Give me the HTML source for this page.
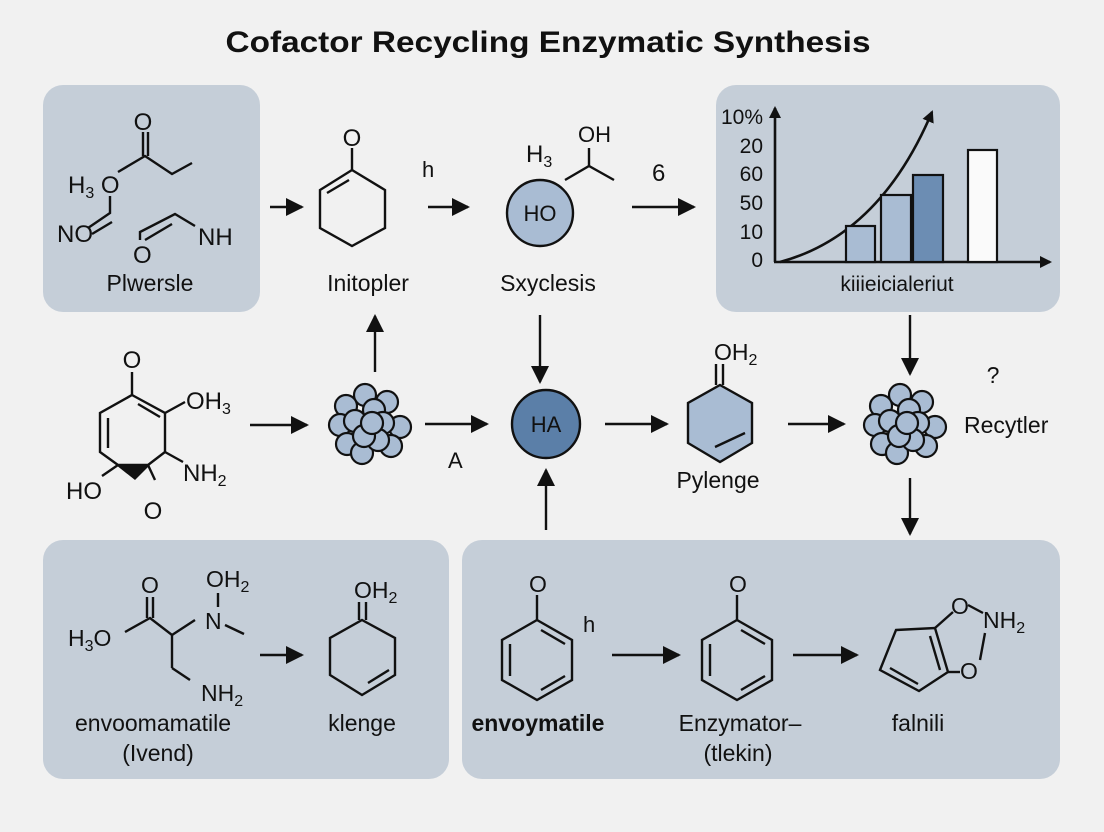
<!DOCTYPE html>
<html><head><meta charset="utf-8"><style>
html,body{margin:0;padding:0;background:#f1f1f1;}
svg{display:block;}
text{font-family:"Liberation Sans",sans-serif;fill:#111;}
</style></head><body>
<svg width="1104" height="832" viewBox="0 0 1104 832" xmlns="http://www.w3.org/2000/svg">
<defs>
<marker id="ah" markerWidth="12" markerHeight="12" refX="10" refY="6" orient="auto" markerUnits="userSpaceOnUse" viewBox="0 0 12 12">
<path d="M0,0 L12,6 L0,12 z" fill="#111"/></marker>
<marker id="ah2" markerWidth="18" markerHeight="18" refX="16" refY="9" orient="auto" markerUnits="userSpaceOnUse" viewBox="0 0 18 18">
<path d="M0,0 L18,9 L0,18 z" fill="#111"/></marker>
<g id="cl" stroke="#111" stroke-width="2.2" fill="#a9bcd3">
<circle cx="-5" cy="-30" r="11"/><circle cx="17" cy="-23" r="11"/><circle cx="-24" cy="-19" r="11"/>
<circle cx="4" cy="-15" r="11"/><circle cx="-30" cy="0" r="11"/><circle cx="30" cy="2" r="11"/>
<circle cx="-15" cy="-4" r="11"/><circle cx="13" cy="-2" r="11"/><circle cx="-23" cy="19" r="11"/>
<circle cx="21" cy="21" r="11"/><circle cx="-8" cy="28" r="11"/><circle cx="8" cy="15" r="11"/>
<circle cx="-6" cy="11" r="11"/><circle cx="2" cy="-2" r="11"/>
</g>
</defs>
<rect width="1104" height="832" fill="#f1f1f1"/>
<text x="548" y="52" font-size="30" font-weight="bold" text-anchor="middle" textLength="645" lengthAdjust="spacingAndGlyphs">Cofactor Recycling Enzymatic Synthesis</text>

<rect x="43" y="85" width="217" height="227" rx="20" fill="#c5ced8"/>
<rect x="716" y="85" width="344" height="227" rx="20" fill="#c5ced8"/>
<rect x="43" y="540" width="406" height="239" rx="20" fill="#c5ced8"/>
<rect x="462" y="540" width="598" height="239" rx="20" fill="#c5ced8"/>

<g stroke="#111" stroke-width="2.4" fill="none">
<line x1="148" y1="132" x2="148" y2="156"/><line x1="143" y1="132" x2="143" y2="156"/>
<path d="M118,172 L145,156 L172,174 L192,163"/>
<path d="M110,196 L110,213 L88,228"/><line x1="92" y1="234" x2="112" y2="222"/>
<path d="M140,240 L140,232 L175,214 L195,226"/><line x1="145" y1="240" x2="172" y2="224"/>
<line x1="270" y1="207" x2="302" y2="207" marker-end="url(#ah2)"/>
<line x1="428" y1="207" x2="468" y2="207" marker-end="url(#ah2)"/>
<line x1="632" y1="207" x2="694" y2="207" marker-end="url(#ah2)"/>
<line x1="352" y1="148" x2="352" y2="170"/>
<path d="M352,170 L385,190 L385,228 L352,246 L320,228 L320,190 Z"/>
<line x1="327" y1="193" x2="349" y2="180"/>
<path d="M565,180 L589,166 L614,180"/><line x1="589" y1="166" x2="589" y2="148"/>
</g>
<circle cx="540" cy="213" r="33" fill="#a9bcd3" stroke="#111" stroke-width="2.4"/>

<g font-size="24">
<text x="143" y="130" text-anchor="middle">O</text>
<text x="68" y="193">H<tspan font-size="16" dy="5">3</tspan><tspan dy="-5"> O</tspan></text>
<text x="57" y="242">NO</text>
<text x="198" y="245">NH</text>
<text x="133" y="263">O</text>
<text x="352" y="146" text-anchor="middle">O</text>
<text x="422" y="177" font-size="22">h</text>
<text x="526" y="162">H<tspan font-size="16" dy="5">3</tspan></text>
<text x="578" y="142" font-size="22">OH</text>
<text x="540" y="221" text-anchor="middle" font-size="22">HO</text>
<text x="652" y="181">6</text>
</g>
<g font-size="23" text-anchor="middle">
<text x="150" y="291">Plwersle</text>
<text x="368" y="291">Initopler</text>
<text x="548" y="291">Sxyclesis</text>
</g>

<g stroke="#111" stroke-width="2.6" fill="none">
<line x1="775" y1="262" x2="775" y2="108" marker-end="url(#ah)"/>
<line x1="774" y1="262" x2="1050" y2="262" marker-end="url(#ah)"/>
<path d="M780,262 Q880,235 932,112" marker-end="url(#ah)"/>
</g>
<g stroke="#111" stroke-width="2.2">
<rect x="846" y="226" width="29" height="36" fill="#a9bcd3"/>
<rect x="881" y="195" width="30" height="67" fill="#a9bcd3"/>
<rect x="913" y="175" width="30" height="87" fill="#6c8db3"/>
<rect x="968" y="150" width="29" height="112" fill="#fafafa"/>
</g>
<g font-size="21" text-anchor="end">
<text x="763" y="124">10%</text><text x="763" y="153">20</text><text x="763" y="181">60</text>
<text x="763" y="210">50</text><text x="763" y="239">10</text><text x="763" y="267">0</text>
</g>
<text x="897" y="291" font-size="21" text-anchor="middle">kiiieicialeriut</text>

<g stroke="#111" stroke-width="2.4" fill="none">
<line x1="375" y1="372" x2="375" y2="316" marker-end="url(#ah2)"/>
<line x1="540" y1="315" x2="540" y2="382" marker-end="url(#ah2)"/>
<line x1="910" y1="315" x2="910" y2="374" marker-end="url(#ah2)"/>
<line x1="546" y1="530" x2="546" y2="470" marker-end="url(#ah2)"/>
<line x1="910" y1="478" x2="910" y2="534" marker-end="url(#ah2)"/>
<line x1="250" y1="425" x2="307" y2="425" marker-end="url(#ah2)"/>
<line x1="425" y1="424" x2="487" y2="424" marker-end="url(#ah2)"/>
<line x1="605" y1="424" x2="667" y2="424" marker-end="url(#ah2)"/>
<line x1="788" y1="424" x2="844" y2="424" marker-end="url(#ah2)"/>
<line x1="132" y1="372" x2="132" y2="395"/>
<path d="M132,395 L165,413 L165,452 L148,465 L118,465 L100,452 L100,413 Z"/>
<line x1="138" y1="404" x2="160" y2="417"/><line x1="108" y1="418" x2="108" y2="448"/>
<line x1="165" y1="413" x2="185" y2="402"/><line x1="165" y1="452" x2="183" y2="462"/>
<line x1="118" y1="465" x2="102" y2="476"/><line x1="148" y1="465" x2="155" y2="480"/>
</g>
<path d="M116,465 L150,465 L135,480 Z" fill="#111"/>
<g font-size="24">
<text x="132" y="368" text-anchor="middle">O</text>
<text x="186" y="409">OH<tspan font-size="16" dy="5">3</tspan></text>
<text x="183" y="481">NH<tspan font-size="16" dy="5">2</tspan></text>
<text x="66" y="499">HO</text>
<text x="153" y="519" text-anchor="middle">O</text>
<text x="448" y="468" font-size="22">A</text>
</g>
<use href="#cl" x="370" y="425"/>
<use href="#cl" x="905" y="425"/>
<circle cx="546" cy="424" r="34" fill="#5b7fa8" stroke="#111" stroke-width="2.4"/>
<text x="546" y="432" font-size="22" text-anchor="middle">HA</text>
<g stroke="#111" stroke-width="2.4">
<path d="M720,385 L752,403 L752,443 L720,462 L688,443 L688,403 Z" fill="#a9bcd3"/>
<line x1="716" y1="385" x2="716" y2="364"/><line x1="723" y1="385" x2="723" y2="364"/>
<line x1="715" y1="447" x2="745" y2="433"/>
</g>
<g font-size="23">
<text x="714" y="360">OH<tspan font-size="16" dy="5">2</tspan></text>
<text x="718" y="488" text-anchor="middle">Pylenge</text>
<text x="993" y="383" text-anchor="middle">?</text>
<text x="964" y="433">Recytler</text>
</g>

<g stroke="#111" stroke-width="2.4" fill="none">
<line x1="147" y1="597" x2="147" y2="618"/><line x1="153" y1="597" x2="153" y2="618"/>
<path d="M125,632 L150,618 L172,635 L195,620"/><line x1="172" y1="635" x2="172" y2="668"/><path d="M172,668 L190,680"/>
<line x1="218" y1="593" x2="218" y2="607"/><line x1="225" y1="625" x2="244" y2="634"/>
<line x1="260" y1="655" x2="302" y2="655" marker-end="url(#ah2)"/>
<line x1="359" y1="602" x2="359" y2="620"/><line x1="366" y1="602" x2="366" y2="620"/>
<path d="M362,620 L395,638 L395,675 L362,695 L330,675 L330,638 Z"/>
<line x1="368" y1="683" x2="389" y2="670"/>
</g>
<g font-size="23">
<text x="150" y="593" text-anchor="middle">O</text>
<text x="68" y="646">H<tspan font-size="16" dy="5">3</tspan><tspan dy="-5">O</tspan></text>
<text x="206" y="587">OH<tspan font-size="16" dy="5">2</tspan></text>
<text x="205" y="629">N</text>
<text x="201" y="701">NH<tspan font-size="16" dy="5">2</tspan></text>
<text x="354" y="598">OH<tspan font-size="16" dy="5">2</tspan></text>
</g>
<g font-size="23" text-anchor="middle">
<text x="153" y="731">envoomamatile</text>
<text x="158" y="761">(Ivend)</text>
<text x="362" y="731">klenge</text>
</g>

<g stroke="#111" stroke-width="2.4" fill="none">
<line x1="537" y1="595" x2="537" y2="620"/>
<path d="M537,620 L572,640 L572,680 L537,700 L502,680 L502,640 Z"/>
<line x1="541" y1="630" x2="565" y2="644"/><line x1="510" y1="644" x2="510" y2="676"/><line x1="541" y1="690" x2="565" y2="676"/>
<line x1="612" y1="655" x2="679" y2="655" marker-end="url(#ah2)"/>
<line x1="737" y1="595" x2="737" y2="620"/>
<path d="M737,620 L772,640 L772,680 L737,700 L702,680 L702,640 Z"/>
<line x1="741" y1="630" x2="765" y2="644"/><line x1="710" y1="644" x2="710" y2="676"/><line x1="741" y1="690" x2="765" y2="676"/>
<line x1="793" y1="655" x2="857" y2="655" marker-end="url(#ah2)"/>
<path d="M896,630 L935,628 L948,672 L919,691 L880,670 Z"/>
<line x1="930" y1="636" x2="940" y2="670"/><line x1="890" y1="668" x2="918" y2="684"/>
<line x1="935" y1="628" x2="953" y2="612"/><line x1="948" y1="672" x2="960" y2="672"/>
<line x1="968" y1="605" x2="983" y2="613"/><line x1="985" y1="633" x2="980" y2="660"/>
</g>
<g font-size="23">
<text x="538" y="592" text-anchor="middle">O</text>
<text x="738" y="592" text-anchor="middle">O</text>
<text x="583" y="632" font-size="22">h</text>
<text x="951" y="614">O</text>
<text x="983" y="628">NH<tspan font-size="16" dy="5">2</tspan></text>
<text x="960" y="679">O</text>
</g>
<g font-size="23" text-anchor="middle">
<text x="538" y="731" font-weight="bold">envoymatile</text>
<text x="740" y="731">Enzymator–</text>
<text x="738" y="761">(tlekin)</text>
<text x="918" y="731">falnili</text>
</g>
</svg>
</body></html>
